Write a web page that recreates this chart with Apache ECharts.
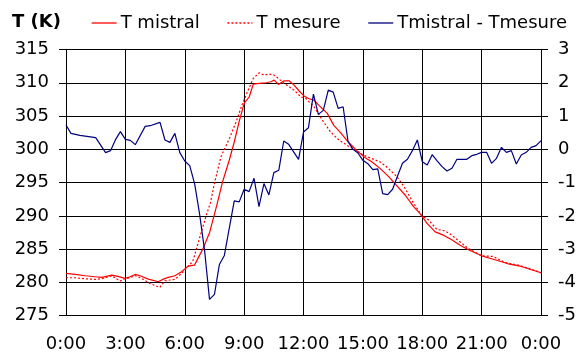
<!DOCTYPE html>
<html>
<head>
<meta charset="utf-8">
<script src="https://cdn.jsdelivr.net/npm/echarts@6/dist/echarts.min.js"></script>
<style>
html,body{margin:0;padding:0;background:#fff;}
#chart{width:579px;height:356px;}
</style>
</head>
<body>
<div id="chart"></div>
<script>
// x tick labels (every 3 hours)
const xTickLabels = ['0:00','3:00','6:00','9:00','12:00','15:00','18:00','21:00','0:00'];

// T mistral (K)
const hoursMistral = [0,0.47,0.97,1.47,1.81,2.31,2.57,2.98,3.24,3.49,3.74,4.16,4.66,4.92,5.17,5.5,5.84,6.17,6.49,6.91,7.25,7.61,7.91,8.25,8.5,8.75,9.0,9.26,9.46,9.76,10.13,10.35,10.52,10.73,11.02,11.27,11.52,11.77,12.03,12.28,12.53,12.78,13.2,13.53,13.87,14.2,14.63,15.04,15.46,15.88,16.3,16.72,17.14,17.56,17.9,18.23,18.65,19.07,19.49,19.91,20.33,21.0,21.67,22.34,23.01,23.51,24];
const tMistral = [281.35,281.2,281.0,280.85,280.75,281.1,280.95,280.6,280.85,281.2,281.0,280.5,280.1,280.5,280.75,281.0,281.6,282.45,282.6,285.0,287.45,291.5,295.1,298.4,301.1,304.2,306.9,307.9,309.8,309.9,310.0,310.15,310.4,309.75,310.3,310.3,309.65,308.8,308.0,307.6,307.4,306.6,305.4,303.6,302.5,301.3,300.0,298.9,298.1,297.1,295.9,294.5,293.1,291.4,290.3,288.9,287.6,287.1,286.4,285.6,284.9,284.0,283.4,282.8,282.4,281.9,281.45];

// T mesure (K)
const hoursMesure = [0,0.47,0.97,1.47,1.81,2.31,2.73,2.98,3.24,3.49,3.82,4.24,4.74,5.0,5.5,5.84,6.25,6.4,6.83,7.08,7.3,7.5,7.83,8.25,8.59,8.92,9.17,9.46,9.76,10.01,10.26,10.52,10.73,11.02,11.27,11.52,11.86,12.11,12.53,12.95,13.37,13.79,14.2,14.63,15.04,15.46,15.88,16.3,16.72,17.14,17.56,17.98,18.31,18.73,19.15,19.49,19.99,20.33,21.0,21.58,22.17,22.84,23.51,24];
const tMesure = [280.7,280.7,280.55,280.45,280.55,281.0,280.2,280.55,280.7,281.05,280.6,279.85,279.25,280.25,280.45,281.35,282.7,283.1,287.5,290.0,292.0,294.9,298.9,301.6,304.1,306.9,308.65,310.65,311.5,311.15,311.3,311.15,310.65,309.9,309.4,308.9,307.9,307.65,306.4,304.4,302.6,301.4,300.6,299.9,299.1,298.6,298.1,297.1,295.9,294.1,291.9,290.0,289.4,288.0,287.75,287.1,285.9,285.1,284.0,283.9,283.0,282.6,282.0,281.45];

// Tmistral - Tmesure (K)
const hoursDiff = [0,0.25,0.7,1.5,2.0,2.25,2.5,2.75,3.0,3.25,3.5,4.0,4.25,4.75,5.0,5.25,5.5,5.75,6.0,6.25,6.5,6.75,7.0,7.25,7.5,7.75,8.0,8.5,8.75,9.0,9.25,9.5,9.75,10.0,10.25,10.5,10.75,11.0,11.25,11.75,12.0,12.25,12.5,12.75,13.0,13.25,13.5,13.75,14.0,14.25,14.5,14.75,15.0,15.25,15.5,15.75,16.0,16.25,16.5,16.75,17.0,17.25,17.5,17.75,18.0,18.25,18.5,18.75,19.0,19.25,19.5,19.75,20.25,20.5,20.75,21.0,21.25,21.5,21.75,22.0,22.25,22.5,22.75,23.0,23.25,23.5,23.75,24.0];
const tDiff = [0.73,0.48,0.42,0.35,-0.10,-0.04,0.29,0.53,0.30,0.27,0.14,0.69,0.71,0.81,0.28,0.21,0.48,-0.10,-0.35,-0.49,-1.04,-1.95,-3.03,-4.51,-4.36,-3.46,-3.19,-1.55,-1.58,-1.20,-1.27,-0.87,-1.72,-1.03,-1.37,-0.70,-0.63,0.25,0.15,-0.30,0.52,0.65,1.66,1.05,1.17,1.78,1.72,1.23,1.28,0.23,0.0,-0.11,-0.33,-0.43,-0.61,-0.59,-1.33,-1.36,-1.20,-0.80,-0.42,-0.30,-0.04,0.28,-0.37,-0.47,-0.16,-0.35,-0.52,-0.65,-0.57,-0.30,-0.30,-0.19,-0.15,-0.09,-0.09,-0.42,-0.27,0.06,-0.09,-0.04,-0.44,-0.17,-0.09,0.06,0.11,0.26];

function zip(xs, ys){ return xs.map((x,i)=>[x, ys[i]]); }

const FONT = 'DejaVu Sans';
const chart = echarts.init(document.getElementById('chart'), null, {renderer:'canvas'});
chart.setOption({
  animation: false,
  backgroundColor: '#fff',
  title: {
    text: 'T (K)', left: 12, top: 13, padding: 0,
    textStyle: {fontFamily: FONT, fontSize: 18, fontWeight: 'bold', color: '#000'}
  },
  legend: {
    left: 91, top: 14, padding: 0,
    itemWidth: 25, itemHeight: 12, itemGap: 27,
    itemStyle: {color: 'rgba(0,0,0,0)', borderWidth: 0, opacity: 0},
    lineStyle: {width: 1.3, opacity: 1},
    textStyle: {fontFamily: FONT, fontSize: 18, color: '#000', padding: [0,0,0,-1]},
    data: ['T mistral','T mesure','Tmistral - Tmesure']
  },
  grid: {left: 66, right: 36, top: 49.5, bottom: 40.3, containLabel: false},
  xAxis: {
    type: 'value', min: 0, max: 24, interval: 3,
    axisLine: {show: true, lineStyle: {color: '#000', width: 1}},
    axisTick: {show: true, length: 6, lineStyle: {color: '#000'}},
    axisLabel: {fontFamily: FONT, fontSize: 18, color: '#000', margin: 20,
      formatter: v => xTickLabels[Math.round(v/3)]},
    splitLine: {show: true, lineStyle: {color: '#000', width: 1}}
  },
  yAxis: [
    {
      type: 'value', position: 'left', min: 275, max: 315, interval: 5,
      axisLine: {show: true, lineStyle: {color: '#000'}},
      axisTick: {show: true, length: 7, lineStyle: {color: '#000'}},
      axisLabel: {fontFamily: FONT, fontSize: 18, color: '#000', margin: 17},
      splitLine: {show: true, lineStyle: {color: '#000', width: 1}}
    },
    {
      type: 'value', position: 'right', min: -5, max: 3, interval: 1,
      axisLine: {show: true, lineStyle: {color: '#000'}},
      axisTick: {show: true, length: 7, lineStyle: {color: '#000'}},
      axisLabel: {fontFamily: FONT, fontSize: 18, color: '#000', margin: 17},
      splitLine: {show: false}
    }
  ],
  series: [
    {
      name: 'T mistral', type: 'line', yAxisIndex: 0, symbol: 'none',
      data: zip(hoursMistral, tMistral),
      lineStyle: {color: '#ff0000', width: 1.2}, itemStyle: {color: '#ff0000'}
    },
    {
      name: 'T mesure', type: 'line', yAxisIndex: 0, symbol: 'none',
      data: zip(hoursMesure, tMesure),
      lineStyle: {color: '#ff0000', width: 1.2, type: [2,2]}, itemStyle: {color: '#ff0000'}
    },
    {
      name: 'Tmistral - Tmesure', type: 'line', yAxisIndex: 1, symbol: 'none',
      data: zip(hoursDiff, tDiff),
      lineStyle: {color: '#000080', width: 1.2}, itemStyle: {color: '#000080'}
    }
  ]
});
</script>
</body>
</html>
